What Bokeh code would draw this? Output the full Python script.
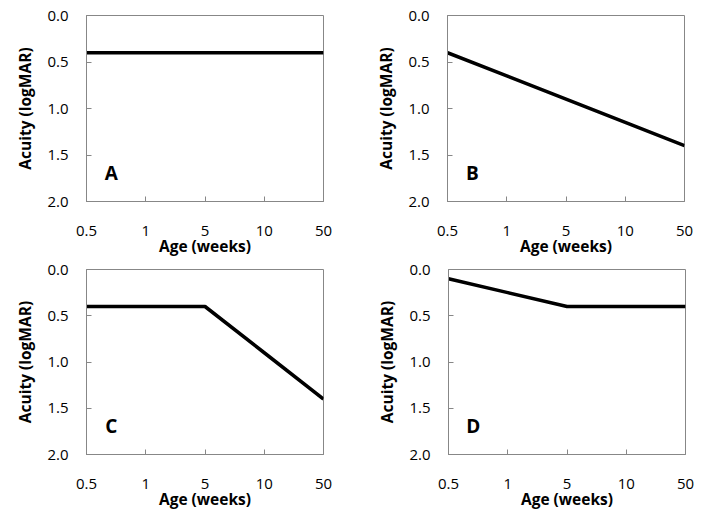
from bokeh.plotting import figure
from bokeh.layouts import column, row
from bokeh.models import Range1d, FixedTicker
from bokeh.core.properties import value
from bokeh.embed import file_html
from bokeh.resources import INLINE

# Data
ages = ["0.5", "1", "5", "10", "50"]
acuity_A = [0.4, 0.4, 0.4, 0.4, 0.4]
acuity_B = [0.4, 0.65, 0.9, 1.15, 1.4]
acuity_C = [0.4, 0.4, 0.4, 0.9, 1.4]
acuity_D = [0.1, 0.25, 0.4, 0.4, 0.4]
y_ticks = [0.0, 0.5, 1.0, 1.5, 2.0]
panel_letters = ["A", "B", "C", "D"]

FONT = "Open Sans"
GRAY = "#878787"
xs = list(range(len(ages)))
FW, FH = 237, 187


def make_panel(vals, letter, border_left, border_top, height):
    p = figure(width=353, height=height, output_backend="svg", toolbar_location=None,
               x_range=Range1d(0, len(ages) - 1), y_range=Range1d(2.0, 0.0),
               min_border_left=border_left, min_border_top=border_top,
               min_border_right=353 - border_left - FW,
               min_border_bottom=height - border_top - FH,
               background_fill_color="white", border_fill_color="white")
    p.xgrid.visible = False
    p.ygrid.visible = False
    p.outline_line_color = GRAY
    p.outline_line_width = 1

    p.line(xs, vals, line_color="black", line_width=3.5)
    p.text(x=[0.42], y=[1.69], text=[letter], text_font=value(FONT),
           text_font_style="bold", text_font_size="19px", text_align="center",
           text_baseline="middle", text_color="black")

    xa = p.xaxis[0]
    xa.ticker = FixedTicker(ticks=xs)
    xa.major_label_overrides = {i: a for i, a in enumerate(ages)}
    xa.axis_label = "Age (weeks)"
    ya = p.yaxis[0]
    ya.ticker = FixedTicker(ticks=y_ticks)
    ya.major_label_overrides = {t: f"{t:.1f}" for t in y_ticks}
    ya.axis_label = "Acuity (logMAR)"
    for ax in (xa, ya):
        ax.axis_line_color = GRAY
        ax.major_tick_line_color = GRAY
        ax.major_tick_in = 5
        ax.major_tick_out = 0
        ax.minor_tick_line_color = None
        ax.major_label_text_font = FONT
        ax.major_label_text_font_size = "15px"
        ax.major_label_text_color = "black"
        ax.axis_label_text_font = FONT
        ax.axis_label_text_font_size = "15.5px"
        ax.axis_label_text_font_style = "bold"
        ax.axis_label_text_color = "black"
    xa.major_label_standoff = 24
    xa.axis_label_standoff = -4
    ya.major_label_standoff = 18
    ya.axis_label_standoff = 8
    return p


pA = make_panel(acuity_A, panel_letters[0], 86, 15, 259)
pB = make_panel(acuity_B, panel_letters[1], 94, 15, 259)
pC = make_panel(acuity_C, panel_letters[2], 86, 10, 264)
pD = make_panel(acuity_D, panel_letters[3], 95, 8, 264)

layout = column(row(pA, pB), row(pC, pD))
open("out.html", "w").write(file_html(layout, INLINE))
